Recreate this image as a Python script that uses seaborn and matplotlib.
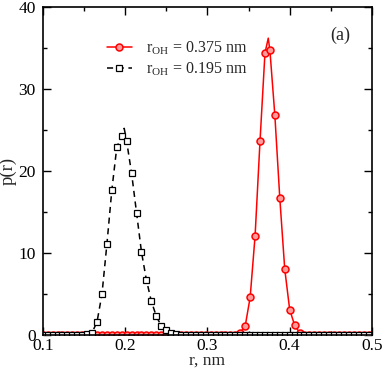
import matplotlib
matplotlib.use("Agg")
import matplotlib.pyplot as plt
from matplotlib.ticker import MultipleLocator
import numpy as np
import pandas as pd
import seaborn as sns

# sampling grid of the histogram (0.006 nm bins)
r_grid = [round(0.1 + 0.006 * i, 3) for i in range(67)]

# r_OH = 0.195 nm (black squares)
p_195 = [0, 0, 0, 0, 0, 0, 0, 0, 0.05, 0.1,
         0.3, 1.6, 5.0, 11.1, 17.7, 22.9, 24.3, 23.6, 19.7, 14.9,
         10.1, 6.7, 4.1, 2.3, 1.1, 0.6, 0.3, 0.1, 0.05, 0,
         0, 0, 0, 0, 0, 0, 0, 0, 0, 0,
         0, 0, 0, 0, 0, 0, 0, 0, 0, 0,
         0, 0, 0, 0, 0, 0, 0, 0, 0, 0,
         0, 0, 0, 0, 0, 0, 0]
peak_195_r = [0.199]
peak_195_p = [25.2]

# r_OH = 0.375 nm (red circles)
p_375 = [0, 0, 0, 0, 0, 0, 0, 0, 0, 0,
         0, 0, 0, 0, 0, 0, 0, 0, 0, 0,
         0, 0, 0, 0, 0, 0, 0, 0, 0, 0,
         0, 0, 0, 0, 0, 0, 0, 0, 0.02, 0.05,
         0.3, 1.1, 4.6, 12.1, 23.7, 34.4, 34.7, 26.8, 16.7, 8.05,
         3.1, 1.2, 0.3, 0.05, 0, 0, 0, 0, 0, 0,
         0, 0, 0, 0, 0, 0, 0]
peak_375_r = [0.374]
peak_375_p = [36.2]

labels = [r"r$_{\rm OH}$ = 0.375 nm", r"r$_{\rm OH}$ = 0.195 nm"]


def series(p_vals, peak_r, peak_p):
    df = pd.concat([
        pd.DataFrame({"r": r_grid, "p": p_vals, "mark": True}),
        pd.DataFrame({"r": peak_r, "p": peak_p, "mark": False}),
    ]).sort_values("r").reset_index(drop=True)
    return df, list(np.flatnonzero(df["mark"].values))


sns.set_style("ticks")
plt.rcParams["font.family"] = ["Liberation Serif", "DejaVu Serif"]
plt.rcParams["mathtext.fontset"] = "custom"
plt.rcParams["mathtext.rm"] = "Liberation Serif"

fig = plt.figure(figsize=(3.82, 3.70), dpi=100)
ax = fig.add_axes([0.1118, 0.0946, 0.8620, 0.8865])

df_r, mk_r = series(p_375, peak_375_r, peak_375_p)
df_b, mk_b = series(p_195, peak_195_r, peak_195_p)

sns.lineplot(data=df_r, x="r", y="p", ax=ax, color="red", lw=1.1,
             marker="o", markersize=5, markerfacecolor="#ff9a9a",
             markeredgecolor="red", markeredgewidth=1.1,
             markevery=mk_r, label=labels[0], errorbar=None)
sns.lineplot(data=df_b, x="r", y="p", ax=ax, color="black", lw=1.1,
             linestyle=(0, (4, 3)), marker="s", markersize=4,
             markerfacecolor="white", markeredgecolor="black",
             markeredgewidth=0.9, markevery=mk_b, label=labels[1],
             errorbar=None)

ax.set_xlim(0.1, 0.5)
ax.set_ylim(0, 40)
ax.xaxis.set_major_locator(MultipleLocator(0.1))
ax.xaxis.set_minor_locator(MultipleLocator(0.05))
ax.yaxis.set_major_locator(MultipleLocator(10))
ax.yaxis.set_minor_locator(MultipleLocator(5))
ax.tick_params(which="both", direction="in", top=True, right=True,
               width=1.0, labelsize=12.5, colors="black")
ax.tick_params(which="major", length=6, pad=3)
ax.tick_params(axis="x", which="major", pad=2.5)
ax.tick_params(axis="y", which="major", pad=5)
ax.tick_params(which="minor", length=3)
for s in ax.spines.values():
    s.set_linewidth(1.2)
    s.set_color("black")

ax.set_xlabel("r, nm", fontsize=12.5, labelpad=-1.5)
ax.set_ylabel("p(r)", fontsize=13.5, labelpad=1)

ax.legend(loc="upper left", bbox_to_anchor=(0.175, 0.92), frameon=False,
          fontsize=11.5, handlelength=1.6, handletextpad=0.85,
          labelspacing=0.2, borderaxespad=0)
ax.text(0.905, 0.915, "(a)", transform=ax.transAxes, fontsize=13,
        ha="center", va="center")

fig.savefig("out.png", dpi=100)
